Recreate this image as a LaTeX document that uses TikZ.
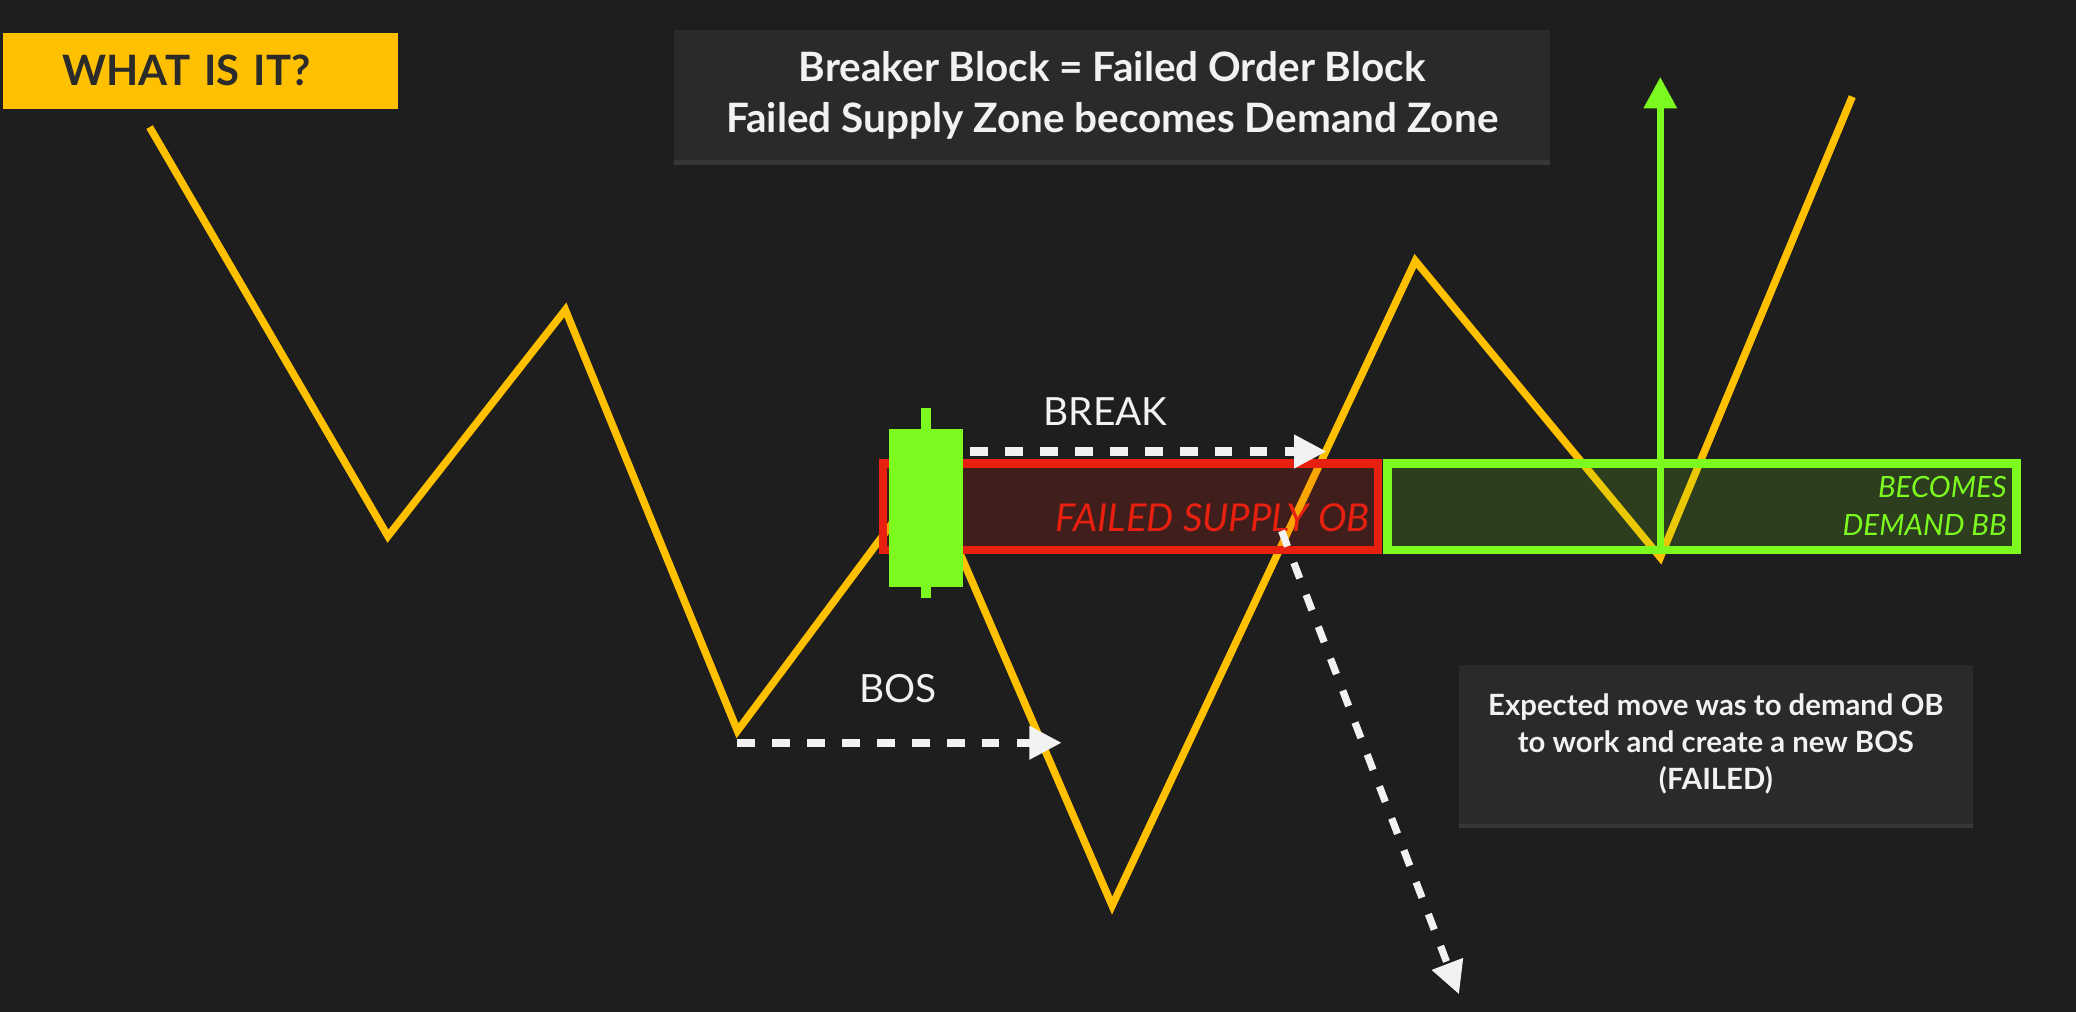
\documentclass[tikz,border=0pt]{standalone}
\usepackage{fontspec}
\setmainfont{Lato}
\usepackage{tikz}
\usepackage{xcolor}
\usetikzlibrary{arrows.meta}
\usetikzlibrary{shadows}
\definecolor{bgdark}{HTML}{1E1E1E}
\definecolor{boxgrey}{HTML}{2A2A2A}
\definecolor{pricegold}{HTML}{FFC000}
\definecolor{bbgreen}{HTML}{7CF91E}
\definecolor{obred}{HTML}{E8200F}
\definecolor{labelwhite}{HTML}{F2F2F2}
\definecolor{ink}{HTML}{2B2B2B}
\tikzset{price/.style={pricegold,line width=3.2pt,line join=miter}}
\tikzset{zone/.style={line width=3.6pt,inner sep=0pt,minimum height=1.31cm}}
\tikzset{dotarrow/.style={labelwhite,line width=3.6pt,dash pattern=on 7.6pt off 7.4pt,-{Triangle[length=14pt,width=13.6pt]}}}
\tikzset{infobox/.style={fill=boxgrey,text=labelwhite,align=center,drop shadow={opacity=0.25,shadow xshift=0pt,shadow yshift=-2pt}}}
\tikzset{tag/.style={inner sep=0pt}}

\begin{document}
\begin{tikzpicture}[x=0.02cm,y=-0.02cm]
        \fill[bgdark] (0,0) rectangle (1568,764);
        \useasboundingbox (0,0) rectangle (1568,764);
        \coordinate (A) at (113,96);
        \coordinate (B) at (293,405);
        \coordinate (C) at (427,234);
        \coordinate (D) at (557,552);
        \coordinate (E) at (700,360);
        \coordinate (F) at (840,684);
        \coordinate (G) at (1069,197);
        \coordinate (H) at (1254,421);
        \coordinate (K) at (1399,73);
        \draw[price] (A) -- (B) -- (C) -- (D) -- (E) -- (F) -- (G) -- (H) -- (K);
        \node[zone,draw=obred,fill=obred,fill opacity=0.17,minimum width=7.48cm] (supply) at (854,382.75) {};
        \node[zone,draw=bbgreen,fill=bbgreen,fill opacity=0.15,minimum width=9.5cm] (demand) at (1285.5,382.75) {};
        \node[tag,anchor=east,text=obred,font=\fontsize{16.5}{18}\selectfont\itshape] (supplytag) at (1035,391) {FAILED SUPPLY OB};
        \node[tag,anchor=east,text=bbgreen,align=right,font=\fontsize{12.6}{16.2}\selectfont\itshape] (demandtag) at (1516,382.3) {BECOMES\\DEMAND BB};
        \draw[bbgreen,line width=4pt] (699.5,308) -- (699.5,452);
        \node[fill=bbgreen,inner sep=0pt,minimum width=1.11cm,minimum height=2.38cm] (candle) at (699.3,383.5) {};
        \coordinate (bosstart) at (557,561);
        \coordinate (bosend) at (802,561);
        \coordinate (breakstart) at (733,341);
        \coordinate (breakend) at (1002,341);
        \coordinate (failstart) at (968,401);
        \coordinate (failend) at (1102,751);
        \coordinate (retest) at (1254,416);
        \coordinate (target) at (1254,58);
        \draw[dotarrow] (bosstart) -- (bosend);
        \draw[dotarrow] (breakstart) -- (breakend);
        \draw[dotarrow,line width=3.1pt,dash pattern=on 7.1pt off 7.6pt] (failstart) -- (failend);
        \draw[bbgreen,line width=3.2pt,-{Triangle[length=13.6pt,width=13.6pt]}] (retest) -- (target);
        \node[labelwhite,font=\fontsize{16.7}{18}\selectfont] (bos) at (678,520) {BOS};
        \node[labelwhite,font=\fontsize{16.7}{18}\selectfont] (break) at (835,311) {BREAK};
        \node[anchor=west,fill=pricegold,text=ink,text width=4.16cm,inner xsep=0.9cm,inner ysep=0pt,minimum height=1.14cm,align=left,font=\fontsize{18}{20}\selectfont\bfseries] (what) at (2,53.5) {WHAT IS IT?};
        \node[infobox,minimum width=13.24cm,minimum height=1.96cm,font=\fontsize{17.4}{22.3}\selectfont\bfseries] (title) at (840,72) {Breaker Block = Failed Order Block\\Failed Supply Zone becomes Demand Zone};
        \node[infobox,minimum width=7.76cm,minimum height=2.4cm,font=\fontsize{12.6}{15.9}\selectfont\bfseries] (expected) at (1296,562) {Expected move was to demand OB\\to work and create a new BOS\\(FAILED)};
    \end{tikzpicture}
\end{document}
